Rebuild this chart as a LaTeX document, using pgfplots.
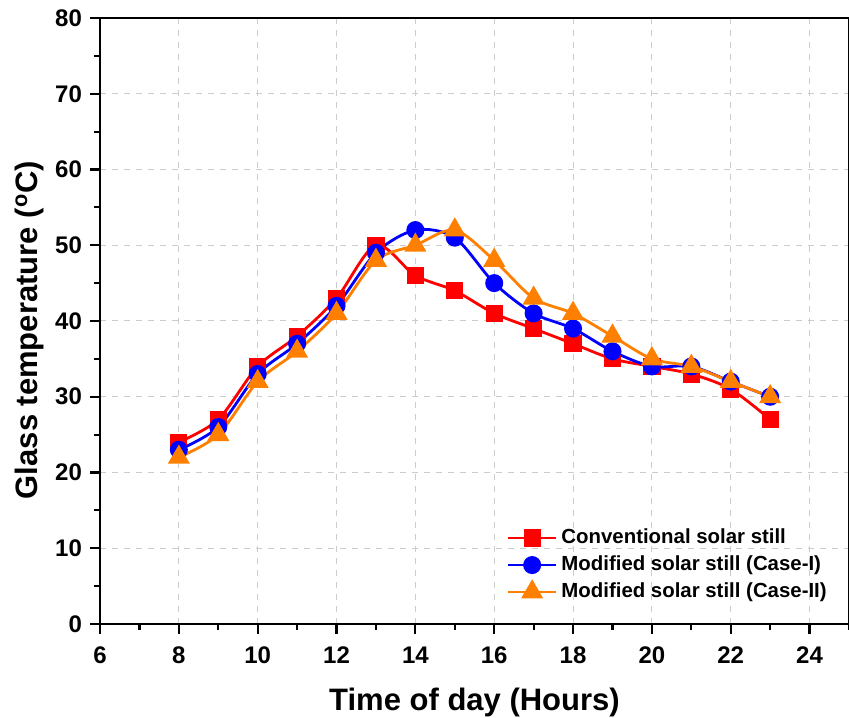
\documentclass[border=0pt]{standalone}
\usepackage{fontspec}
\setmainfont{Liberation Sans}
\usepackage{pgfplots}
\pgfplotsset{compat=1.18}
\definecolor{cred}{RGB}{255,0,0}
\definecolor{cblue}{RGB}{0,0,255}
\definecolor{corange}{RGB}{255,127,0}
\begin{document}
\begin{tikzpicture}
\begin{axis}[
  scale only axis,
  width=374.5pt, height=303pt,
  xmin=6, xmax=25, ymin=0, ymax=80,
  xtick={6,8,...,24}, ytick={0,10,...,80},
  minor xtick={7,9,...,25}, minor ytick={5,15,...,75},
  tick align=outside, tick pos=left,
  major tick length=5pt, minor tick length=3pt,
  every tick/.style={black, line width=1.1pt},
  axis line style={line width=1.1pt},
  grid=major,
  major grid style={dashed, gray!40, line width=0.5pt},
  tick label style={font=\fontsize{12}{14}\selectfont\bfseries},
  /pgf/number format/assume math mode=true,
  xticklabel style={yshift=-3pt},
  yticklabel style={xshift=-0.5pt},
  xlabel={\textbf{Time of day (Hours)}},
  ylabel={\textbf{Glass temperature (\textsuperscript{o}C)}},
  label style={font=\fontsize{15.5}{18}\selectfont\bfseries},
  xlabel style={at={(axis description cs:0.5,-0.13)}, anchor=center},
  ylabel style={at={(axis description cs:-0.094,0.485)}, anchor=center},
  legend style={draw=none, fill=none, at={(0.54,0.167)}, anchor=north west,
    font=\fontsize{10.2}{12}\selectfont\bfseries, row sep=0.6pt, inner sep=1pt},
  legend cell align=left,
  legend image code/.code={\draw[mark repeat=2,mark phase=2] plot coordinates {(0cm,0cm) (0.42cm,0cm) (0.84cm,0cm)};},
]
\addplot[cred, line width=1.4pt, smooth, tension=0.5, mark=square*, mark size=3.6pt, mark options={solid}] coordinates {
(8,24) (9,27) (10,34) (11,38) (12,43) (13,50) (14,46) (15,44) (16,41) (17,39) (18,37) (19,35) (20,34) (21,33) (22,31) (23,27)};
\addlegendentry{Conventional solar still}
\addplot[cblue, line width=1.4pt, smooth, tension=0.5, mark=*, mark size=3.8pt] coordinates {
(8,23) (9,26) (10,33) (11,37) (12,42) (13,49) (14,52) (15,51) (16,45) (17,41) (18,39) (19,36) (20,34) (21,34) (22,32) (23,30)};
\addlegendentry{Modified solar still (Case-I)}
\addplot[corange, line width=1.4pt, smooth, tension=0.5, mark=triangle*, mark size=5pt] coordinates {
(8,22) (9,25) (10,32) (11,36) (12,41) (13,48) (14,50) (15,52) (16,48) (17,43) (18,41) (19,38) (20,35) (21,34) (22,32) (23,30)};
\addlegendentry{Modified solar still (Case-II)}
\end{axis}
\pgfresetboundingbox
\useasboundingbox ([shift={(-50pt,-47pt)}]current axis.south west) rectangle ([shift={(0pt,9pt)}]current axis.north east);
\end{tikzpicture}
\end{document}
